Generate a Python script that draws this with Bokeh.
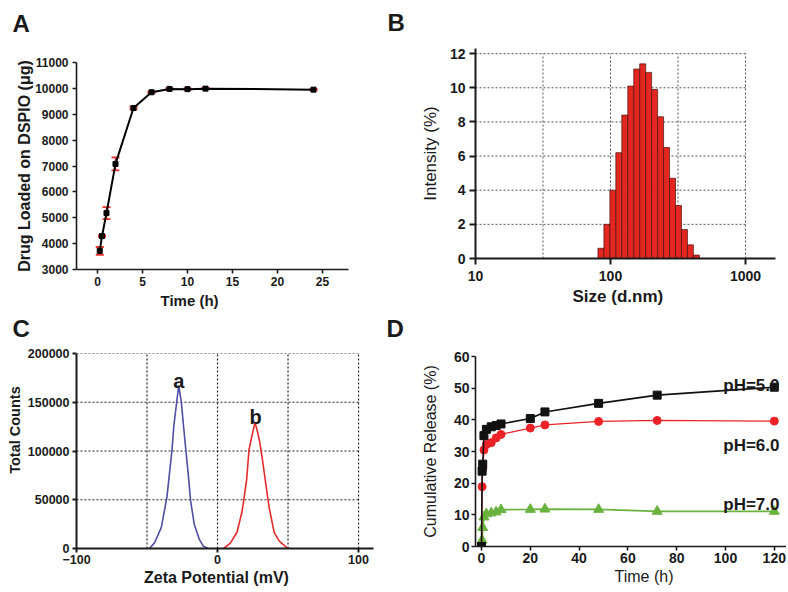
import math
from bokeh.plotting import figure
from bokeh.layouts import column, row
from bokeh.models import (Label, Whisker, TeeHead, ColumnDataSource, FixedTicker, Range1d,
                          BasicTickFormatter, PrintfTickFormatter, LinearAxis, LogAxis, Title)
from bokeh.embed import file_html
from bokeh.resources import INLINE

FONT = "Liberation Sans"
INK = "#1a1a1a"

# ---------------- Panel A: drug loading ----------------
a_time = [0.25, 0.5, 1, 2, 4, 6, 8, 10, 12, 24]
a_load = [3720, 4290, 5180, 7080, 9240, 9850, 9980, 9970, 9990, 9950]
a_err = [150, 30, 230, 250, 50, 30, 25, 25, 25, 25]
a_xticks = [0, 5, 10, 15, 20, 25]
a_yticks = [3000, 4000, 5000, 6000, 7000, 8000, 9000, 10000, 11000]

# ---------------- Panel B: size distribution ----------------
b_size = [84.9, 94.0, 104.1, 115.2, 127.6, 141.3, 156.4, 173.2, 191.7,
          212.3, 235.0, 260.2, 288.0, 318.9, 353.0, 390.8, 432.7]
b_intensity = [0.6, 2.0, 4.0, 6.2, 8.4, 10.1, 11.1, 11.4, 10.9,
               9.9, 8.3, 6.5, 4.7, 3.1, 1.7, 0.8, 0.2]
b_xticks = [10, 100, 1000]
b_yticks = [0, 2, 4, 6, 8, 10, 12]
b_grid_x = [31.62, 100, 316.2, 1000]
b_grid_y = [2, 4, 6, 8, 10, 12]

# ---------------- Panel C: zeta potential ----------------
c_a_mv = [-48.3, -44.7, -39.9, -35.9, -32.3, -30.9, -27.5, -25.6, -24.4,
          -22.7, -20.8, -19.1, -16.5, -12.9, -10.1, -6.5]
c_a_counts = [0, 5800, 21400, 52500, 100900, 126900, 167300, 149400, 130300,
              104400, 76800, 49100, 24900, 9300, 2400, 0]
c_b_mv = [4.3, 9.1, 13.9, 17.5, 20.6, 22.3, 24.0, 26.6, 28.3, 29.9, 31.9,
          34.2, 36.6, 40.2, 43.8, 49.8]
c_b_counts = [0, 5500, 16900, 38700, 69800, 100900, 113000, 129300, 119900,
              109500, 90600, 66400, 42100, 16200, 7600, 0]
c_xticks = [-100, 0, 100]
c_yticks = [0, 50000, 100000, 150000, 200000]
c_grid_x = [-50, 0, 50, 100]
c_grid_y = [50000, 100000, 150000, 200000]

# ---------------- Panel D: cumulative release ----------------
d_time = [0, 0.25, 0.5, 1, 2, 4, 6, 8, 20, 26, 48, 72, 120]
d_ph5 = [0, 23.8, 26.0, 35.0, 37.0, 37.8, 38.2, 38.7, 40.4, 42.5, 45.2, 47.8, 50.3]
d_ph6 = [0, 18.9, 24.5, 30.5, 32.2, 32.8, 34.3, 35.4, 37.4, 38.4, 39.5, 39.8, 39.6]
d_ph7 = [0, 2.0, 6.0, 9.3, 10.3, 10.6, 10.9, 11.6, 11.7, 11.8, 11.7, 11.1, 11.1]
d_xticks = [0, 20, 40, 60, 80, 100, 120]
d_yticks = [0, 10, 20, 30, 40, 50, 60]


def make_fig(w, h, xr, yr, borders, x_axis_type="linear"):
    left, right, top, bottom = borders
    p = figure(width=w, height=h, x_range=Range1d(*xr), y_range=Range1d(*yr),
               x_axis_type=x_axis_type, output_backend="svg", toolbar_location=None,
               min_border_left=left, min_border_right=right,
               min_border_top=top, min_border_bottom=bottom)
    p.outline_line_color = None
    p.xgrid.visible = False
    p.ygrid.visible = False
    p.background_fill_color = "white"
    p.border_fill_color = "white"
    return p


def style_axes(p, tick_size, tick_out, sx, sy, axis_w):
    for ax in (p.xaxis[0], p.yaxis[0]):
        ax.axis_line_color = INK
        ax.axis_line_width = axis_w
        ax.major_tick_line_color = INK
        ax.major_tick_line_width = axis_w
        ax.major_tick_in = 0
        ax.major_tick_out = tick_out
        ax.minor_tick_line_color = None
        ax.major_label_text_font = FONT
        ax.major_label_text_font_style = "bold"
        ax.major_label_text_font_size = tick_size
        ax.major_label_text_color = INK
    p.xaxis[0].major_label_standoff = sx
    p.yaxis[0].major_label_standoff = sy


def bare_axis(log=False, **kw):
    cls = LogAxis if log else LinearAxis
    return cls(ticker=FixedTicker(ticks=[]), axis_line_color=None,
               major_tick_line_color=None, minor_tick_line_color=None,
               major_tick_in=0, major_tick_out=0, major_label_standoff=0, **kw)


def axis_title(p, side, text, size, standoff, bold=True, log=False):
    """Invisible axis that carries a title centred on the frame."""
    ax = bare_axis(log=log, axis_label=text,
                   axis_label_standoff=standoff, axis_label_text_font=FONT,
                   axis_label_text_font_size=f"{size}px",
                   axis_label_text_font_style="bold" if bold else "normal",
                   axis_label_text_color=INK)
    p.add_layout(ax, side)


def side_title(p, side, text, size, offset, standoff, bold=True):
    p.add_layout(Title(text=text, align="left", offset=offset, standoff=standoff,
                       vertical_align="bottom", text_font=FONT,
                       text_font_size=f"{size}px",
                       text_font_style="bold" if bold else "normal",
                       text_color=INK), side)


def panel_letter(p, letter, offset, gap, log=False):
    # an empty, invisible axis keeps a gap between the frame and the letter
    spacer = bare_axis(log=log, axis_label="\u00a0", axis_label_standoff=gap - 1,
                       axis_label_text_font_size="1px", axis_label_text_color="white")
    p.add_layout(spacer, "above")
    side_title(p, "above", letter, 24, offset, 0)


def add_label(p, x, y, text, size, units="data", align="center", baseline="alphabetic"):
    p.add_layout(Label(x=x, y=y, x_units=units, y_units=units, text=text,
                       text_font=FONT, text_font_size=f"{size}px", text_font_style="bold",
                       text_align=align, text_baseline=baseline, text_color=INK))


# ---------- A ----------
pA = make_fig(384, 311, (-2.333, 30.667), (3000, 11000), (76, 11, 62, 42))
style_axes(pA, "12px", 4, 3, 4, 1.6)
pA.xaxis[0].ticker = FixedTicker(ticks=a_xticks)
pA.xaxis[0].bounds = (-2.333, 27.89)
pA.yaxis[0].ticker = FixedTicker(ticks=a_yticks)
srcA = ColumnDataSource(dict(t=a_time, v=a_load,
                             hi=[v + e for v, e in zip(a_load, a_err)],
                             lo=[v - e for v, e in zip(a_load, a_err)]))
pA.line("t", "v", source=srcA, line_color="black", line_width=2)
RED_A = "#e8302a"
pA.add_layout(Whisker(source=srcA, base="t", upper="hi", lower="lo",
                      line_color=RED_A, line_width=1.5,
                      upper_head=TeeHead(size=8, line_color=RED_A, line_width=1.8),
                      lower_head=TeeHead(size=8, line_color=RED_A, line_width=1.8)))
pA.scatter("t", "v", source=srcA, marker="square", size=5, fill_color="black",
           line_color="black", level="overlay")
side_title(pA, "below", "Time (h)", 15, 84, 1.5)
axis_title(pA, "left", "Drug Loaded on DSPIO (μg)", 16, 0)
panel_letter(pA, "A", -64, 23)

# ---------- B ----------
pB = make_fig(402, 311, (10, 2012), (0, 12.3), (91, 0, 48, 53), x_axis_type="log")
style_axes(pB, "14px", 6, 6, 4, 2)
pB.xaxis[0].ticker = FixedTicker(ticks=b_xticks)
pB.xaxis[0].formatter = PrintfTickFormatter(format="%d")
pB.xaxis[0].bounds = (10, 1668)
pB.yaxis[0].ticker = FixedTicker(ticks=b_yticks)
GRID_B = "#555555"
pB.segment(x0=b_grid_x, y0=[0] * len(b_grid_x), x1=b_grid_x, y1=[12] * len(b_grid_x),
           line_color=GRID_B, line_width=1, line_dash="2 2")
pB.segment(x0=[10] * len(b_grid_y), y0=b_grid_y, x1=[1000] * len(b_grid_y), y1=b_grid_y,
           line_color=GRID_B, line_width=1, line_dash="2 2")
half = 10 ** 0.0221
pB.quad(left=[s / half for s in b_size], right=[s * half for s in b_size],
        bottom=0, top=b_intensity, fill_color="#e3261f", line_color="#4a1410",
        line_width=0.7)
side_title(pB, "below", "Size (d.nm)", 17, 97, 2)
axis_title(pB, "left", "Intensity (%)", 17, 7, bold=False)
panel_letter(pB, "B", -88, 10, log=True)

# ---------- C ----------
pC = make_fig(384, 279, (-100, 110.6), (0, 200000), (76, 11, 42, 42))
style_axes(pC, "12.5px", 4, 2, 3, 2)
pC.xaxis[0].ticker = FixedTicker(ticks=c_xticks)
pC.yaxis[0].ticker = FixedTicker(ticks=c_yticks)
pC.yaxis[0].formatter = BasicTickFormatter(use_scientific=False)
GRID_C = "#222222"
pC.segment(x0=c_grid_x, y0=[0] * len(c_grid_x), x1=c_grid_x, y1=[200000] * len(c_grid_x),
           line_color=GRID_C, line_width=1.2, line_dash="2 2")
pC.segment(x0=[-100] * len(c_grid_y), y0=c_grid_y, x1=[100] * len(c_grid_y), y1=c_grid_y,
           line_color=GRID_C, line_width=1.2, line_dash="2 2")
pC.line(c_a_mv, c_a_counts, line_color="#4f4fa3", line_width=1.6)
pC.line(c_b_mv, c_b_counts, line_color="#e52b2b", line_width=1.6)
add_label(pC, -27.5, 172000, "a", 20)
add_label(pC, 27.0, 134500, "b", 20)
side_title(pC, "below", "Zeta Potential (mV)", 16, 67.5, 0)
side_title(pC, "left", "Total Counts", 14.5, 74.7, 4)
panel_letter(pC, "C", -64, 9)

# ---------- D ----------
pD = make_fig(402, 279, (-2.459, 125), (0, 60), (91, 0, 45, 44))
style_axes(pD, "14px", 4, 2, 2, 1.6)
pD.xaxis[0].ticker = FixedTicker(ticks=d_xticks)
pD.yaxis[0].ticker = FixedTicker(ticks=d_yticks)
BLK, RED, GRN = "#111111", "#ec2227", "#6ab23e"
pD.line(d_time, d_ph7, line_color=GRN, line_width=1.8)
pD.scatter(d_time, d_ph7, marker="triangle", size=10, fill_color=GRN, line_color=GRN)
pD.line(d_time, d_ph6, line_color=RED, line_width=1.3)
pD.scatter(d_time, d_ph6, marker="circle", size=8, fill_color=RED, line_color=RED)
pD.line(d_time, d_ph5, line_color=BLK, line_width=1.6)
pD.scatter(d_time, d_ph5, marker="square", size=8, fill_color=BLK, line_color=BLK)
add_label(pD, 304, 161, "pH=5.0", 17, units="screen", align="right")
add_label(pD, 304, 101, "pH=6.0", 17, units="screen", align="right")
add_label(pD, 304, 42.5, "pH=7.0", 17, units="screen", align="right")
side_title(pD, "below", "Time (h)", 16, 139, 1, bold=False)
axis_title(pD, "left", "Cumulative Release (%)", 16, 12, bold=False)
panel_letter(pD, "D", -89, 12)

layout = row(column(pA, pC), column(pB, pD))
open("out.html", "w").write(file_html(layout, INLINE))
